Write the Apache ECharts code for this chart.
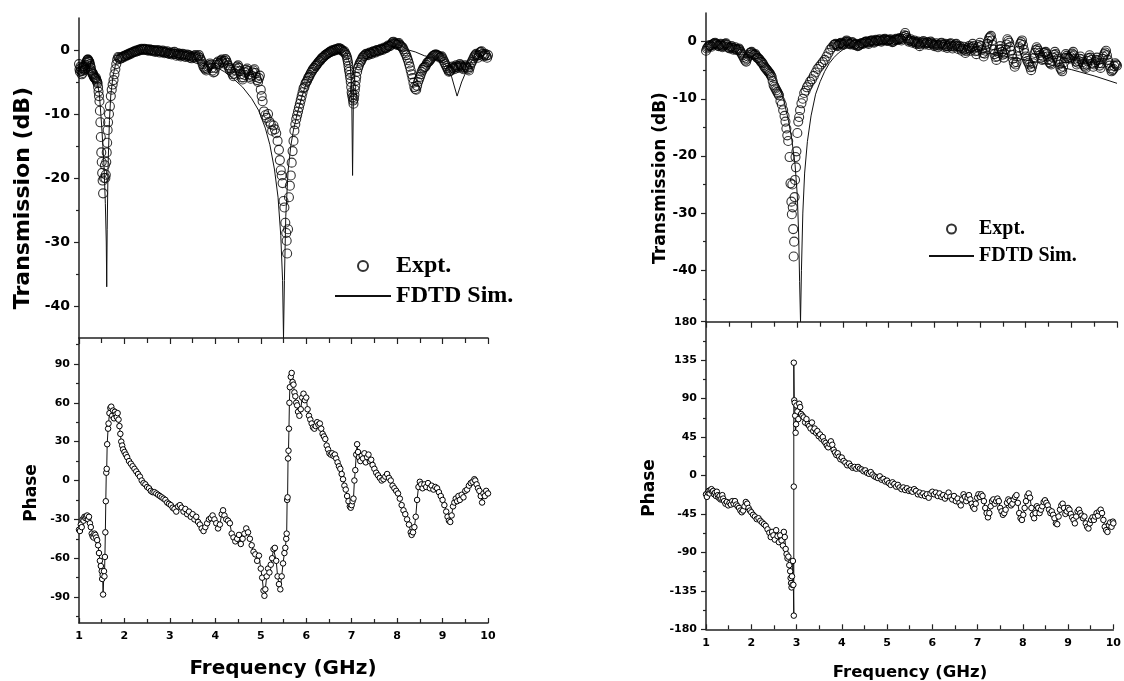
<!DOCTYPE html>
<html><head><meta charset="utf-8">
<script src="https://cdn.jsdelivr.net/npm/echarts@6/dist/echarts.min.js"></script>
<style>html,body{margin:0;padding:0;background:#fff;}#c{width:1124px;height:681px;}</style>
</head><body><div id="c"></div>
<script>
// ---------- DATA ----------
const freqTicks = [1,2,3,4,5,6,7,8,9,10];
const leftTransTicks = [-40,-30,-20,-10,0];
const leftPhaseTicks = [-90,-60,-30,0,30,60,90];
const rightTransTicks = [-40,-30,-20,-10,0];
const rightPhaseTicks = [-180,-135,-90,-45,0,45,90,135,180];

// Left sample: transmission, experiment [GHz, dB]
const leftTransExpt = [[1.00,-2.2],[1.01,-3.0],[1.02,-3.4],[1.03,-2.6],[1.04,-3.2],[1.05,-2.8],[1.06,-3.8],[1.07,-3.3],[1.08,-3.6],[1.09,-2.9],[1.10,-2.6],[1.11,-2.5],[1.12,-3.1],[1.13,-2.8],[1.14,-3.0],[1.15,-2.3],[1.16,-2.0],[1.17,-1.8],[1.18,-1.6],[1.19,-1.5],[1.20,-1.5],[1.21,-1.7],[1.22,-1.8],[1.23,-1.9],[1.24,-2.2],[1.25,-2.5],[1.26,-2.8],[1.27,-3.2],[1.28,-3.4],[1.29,-3.6],[1.30,-3.8],[1.31,-3.7],[1.32,-4.0],[1.33,-4.2],[1.34,-4.3],[1.35,-4.4],[1.36,-4.5],[1.37,-4.3],[1.38,-4.6],[1.39,-4.8],[1.40,-5.0],[1.41,-5.2],[1.42,-5.8],[1.43,-6.5],[1.44,-7.2],[1.45,-8.0],[1.46,-9.5],[1.47,-11.3],[1.48,-13.6],[1.49,-16.0],[1.50,-17.5],[1.51,-19.2],[1.52,-20.4],[1.53,-22.4],[1.55,-20.0],[1.57,-18.0],[1.58,-20.0],[1.59,-19.5],[1.60,-17.5],[1.61,-16.0],[1.62,-14.5],[1.63,-12.5],[1.64,-11.3],[1.66,-10.0],[1.68,-8.8],[1.70,-7.2],[1.72,-6.2],[1.74,-5.4],[1.76,-4.7],[1.78,-3.8],[1.80,-3.0],[1.82,-2.2],[1.84,-1.5],[1.86,-1.1],[1.88,-1.2],[1.90,-1.4],[1.92,-1.3],[1.94,-1.1],[1.96,-1.2],[1.98,-1.0],[2.00,-0.9],[2.02,-1.0],[2.04,-0.8],[2.06,-0.7],[2.08,-0.8],[2.10,-0.6],[2.12,-0.5],[2.14,-0.6],[2.16,-0.4],[2.18,-0.4],[2.20,-0.3],[2.22,-0.2],[2.24,-0.3],[2.26,-0.1],[2.28,-0.2],[2.30,0.0],[2.32,-0.1],[2.34,0.1],[2.36,0.0],[2.38,0.2],[2.40,0.1],[2.42,0.0],[2.44,0.2],[2.46,0.1],[2.48,0.0],[2.50,0.1],[2.52,-0.1],[2.54,0.0],[2.56,0.1],[2.58,-0.1],[2.60,0.0],[2.62,-0.2],[2.64,0.0],[2.66,-0.1],[2.68,-0.3],[2.70,-0.1],[2.72,-0.2],[2.74,0.0],[2.76,-0.2],[2.78,-0.4],[2.80,-0.2],[2.82,-0.3],[2.84,-0.1],[2.86,-0.3],[2.88,-0.5],[2.90,-0.3],[2.92,-0.4],[2.94,-0.2],[2.96,-0.5],[2.98,-0.6],[3.00,-0.4],[3.02,-0.5],[3.04,-0.7],[3.06,-0.4],[3.08,-0.6],[3.10,-0.3],[3.12,-0.6],[3.14,-0.9],[3.16,-0.7],[3.18,-0.5],[3.20,-0.8],[3.22,-0.6],[3.24,-1.0],[3.26,-0.8],[3.28,-0.6],[3.30,-0.9],[3.32,-0.7],[3.34,-1.1],[3.36,-0.9],[3.38,-0.7],[3.40,-1.0],[3.42,-0.8],[3.44,-1.2],[3.46,-1.0],[3.48,-1.3],[3.50,-1.1],[3.52,-0.9],[3.54,-1.2],[3.56,-0.8],[3.58,-1.1],[3.60,-1.4],[3.62,-1.0],[3.64,-0.8],[3.66,-1.2],[3.68,-1.5],[3.70,-1.8],[3.72,-2.2],[3.74,-2.6],[3.76,-2.8],[3.78,-3.0],[3.80,-3.2],[3.82,-2.9],[3.84,-2.6],[3.86,-2.4],[3.88,-2.1],[3.90,-2.3],[3.92,-2.8],[3.94,-3.2],[3.96,-3.5],[3.98,-3.4],[4.00,-2.8],[4.02,-2.3],[4.04,-2.0],[4.06,-1.8],[4.08,-2.2],[4.10,-2.0],[4.12,-1.7],[4.14,-1.5],[4.16,-1.9],[4.18,-2.1],[4.20,-1.7],[4.22,-1.4],[4.24,-1.6],[4.26,-2.0],[4.28,-2.4],[4.30,-2.8],[4.32,-3.1],[4.34,-2.9],[4.36,-3.4],[4.38,-3.8],[4.40,-4.1],[4.42,-3.7],[4.44,-3.2],[4.46,-2.9],[4.48,-2.6],[4.50,-2.4],[4.52,-2.8],[4.54,-3.3],[4.56,-3.8],[4.58,-4.3],[4.60,-4.6],[4.62,-4.3],[4.64,-3.9],[4.66,-3.5],[4.68,-3.1],[4.70,-2.9],[4.72,-3.3],[4.74,-3.8],[4.76,-4.2],[4.78,-4.5],[4.80,-4.0],[4.82,-3.5],[4.84,-3.2],[4.86,-3.0],[4.88,-3.6],[4.90,-4.2],[4.92,-4.7],[4.94,-5.0],[4.96,-4.4],[4.98,-4.0],[5.00,-6.2],[5.02,-7.2],[5.04,-8.0],[5.07,-9.6],[5.10,-10.2],[5.13,-10.6],[5.16,-10.0],[5.19,-11.2],[5.22,-11.6],[5.25,-12.6],[5.28,-11.8],[5.31,-12.4],[5.34,-13.0],[5.37,-14.2],[5.40,-15.6],[5.42,-17.2],[5.44,-18.8],[5.46,-19.6],[5.48,-20.8],[5.50,-23.6],[5.52,-24.6],[5.54,-27.0],[5.56,-28.6],[5.57,-29.8],[5.58,-31.8],[5.60,-28.0],[5.62,-23.0],[5.64,-21.2],[5.66,-19.6],[5.68,-17.6],[5.70,-15.8],[5.72,-14.2],[5.74,-12.6],[5.76,-11.6],[5.78,-10.8],[5.80,-10.2],[5.82,-9.6],[5.84,-9.0],[5.86,-8.4],[5.88,-7.8],[5.90,-7.2],[5.92,-6.6],[5.94,-6.0],[5.96,-5.8],[5.98,-5.3],[6.00,-5.0],[6.02,-4.8],[6.04,-4.4],[6.06,-4.2],[6.08,-3.9],[6.10,-3.6],[6.12,-3.4],[6.14,-3.1],[6.16,-2.9],[6.18,-2.8],[6.20,-2.5],[6.22,-2.4],[6.24,-2.2],[6.26,-2.0],[6.28,-1.8],[6.30,-1.7],[6.32,-1.5],[6.34,-1.3],[6.36,-1.2],[6.38,-1.1],[6.40,-0.9],[6.42,-0.8],[6.44,-0.7],[6.46,-0.6],[6.48,-0.5],[6.50,-0.4],[6.52,-0.3],[6.54,-0.3],[6.56,-0.1],[6.58,-0.2],[6.60,0.0],[6.62,-0.1],[6.64,0.1],[6.66,0.0],[6.68,0.2],[6.70,0.1],[6.72,0.3],[6.74,0.1],[6.76,0.2],[6.78,0.0],[6.80,-0.1],[6.82,-0.3],[6.84,-0.2],[6.86,-0.5],[6.88,-0.8],[6.90,-1.2],[6.91,-1.6],[6.92,-2.0],[6.93,-2.5],[6.94,-3.0],[6.95,-3.4],[6.96,-3.9],[6.97,-4.4],[6.98,-5.0],[6.99,-5.8],[7.00,-6.6],[7.01,-7.0],[7.02,-7.4],[7.03,-7.9],[7.04,-8.4],[7.05,-7.6],[7.06,-7.0],[7.07,-6.2],[7.08,-5.6],[7.09,-4.8],[7.10,-4.2],[7.12,-3.4],[7.14,-2.8],[7.16,-2.4],[7.18,-2.0],[7.20,-1.8],[7.22,-1.5],[7.24,-1.2],[7.26,-1.0],[7.28,-0.9],[7.30,-0.7],[7.32,-0.6],[7.34,-0.7],[7.36,-0.8],[7.38,-0.5],[7.40,-0.4],[7.42,-0.5],[7.44,-0.6],[7.46,-0.3],[7.48,-0.2],[7.50,-0.3],[7.52,-0.4],[7.54,-0.1],[7.56,0.0],[7.58,-0.1],[7.60,-0.2],[7.62,0.0],[7.64,0.2],[7.66,0.1],[7.68,0.0],[7.70,0.2],[7.72,0.4],[7.74,0.3],[7.76,0.3],[7.78,0.5],[7.80,0.7],[7.82,0.6],[7.84,0.6],[7.86,0.8],[7.88,1.0],[7.90,1.2],[7.92,1.3],[7.94,1.1],[7.96,1.0],[7.98,0.9],[8.00,0.8],[8.02,1.0],[8.04,1.1],[8.06,0.8],[8.08,0.6],[8.10,0.5],[8.12,0.4],[8.14,0.1],[8.16,-0.2],[8.18,-0.5],[8.20,-0.8],[8.22,-1.2],[8.24,-1.6],[8.26,-2.1],[8.28,-2.6],[8.30,-3.2],[8.32,-3.8],[8.34,-4.4],[8.36,-5.1],[8.38,-5.8],[8.40,-6.1],[8.42,-6.2],[8.44,-5.6],[8.46,-5.0],[8.48,-4.6],[8.50,-4.2],[8.52,-3.8],[8.54,-3.4],[8.56,-3.1],[8.58,-2.8],[8.60,-2.7],[8.62,-2.6],[8.64,-2.3],[8.66,-2.0],[8.68,-1.9],[8.70,-1.8],[8.72,-1.6],[8.74,-1.4],[8.76,-1.2],[8.78,-1.0],[8.80,-0.9],[8.82,-0.8],[8.84,-0.7],[8.86,-0.7],[8.88,-0.8],[8.90,-0.9],[8.92,-1.0],[8.94,-1.2],[8.96,-1.1],[8.98,-1.0],[9.00,-1.3],[9.02,-1.6],[9.04,-1.9],[9.06,-2.2],[9.08,-2.5],[9.10,-2.8],[9.12,-3.1],[9.14,-3.4],[9.16,-3.3],[9.18,-3.2],[9.20,-2.9],[9.22,-2.6],[9.24,-2.8],[9.26,-3.0],[9.28,-2.7],[9.30,-2.4],[9.32,-2.6],[9.34,-2.8],[9.36,-2.5],[9.38,-2.2],[9.40,-2.4],[9.42,-2.6],[9.44,-2.8],[9.46,-3.0],[9.48,-2.7],[9.50,-2.4],[9.52,-2.6],[9.54,-2.8],[9.56,-3.0],[9.58,-3.2],[9.60,-2.7],[9.62,-2.2],[9.64,-1.9],[9.66,-1.6],[9.68,-1.3],[9.70,-1.0],[9.72,-0.8],[9.74,-0.6],[9.76,-0.9],[9.78,-1.2],[9.80,-0.8],[9.82,-0.4],[9.84,-0.3],[9.86,-0.2],[9.88,-0.6],[9.90,-1.0],[9.92,-0.8],[9.94,-0.6],[9.96,-0.9],[9.98,-1.2],[10.00,-0.8]];

// Left sample: transmission, FDTD simulation [GHz, dB]
const leftTransSim = [[1.00,-2.0],[1.10,-2.4],[1.20,-1.8],[1.30,-3.4],[1.40,-4.8],[1.45,-7],[1.50,-12],[1.55,-18],[1.58,-24],[1.60,-30],[1.61,-37],[1.62,-28],[1.64,-18],[1.67,-11],[1.70,-7],[1.75,-4],[1.80,-2.4],[1.85,-1.4],[1.90,-1.0],[2.00,-0.7],[2.20,-0.3],[2.40,0.0],[2.60,0.0],[2.80,-0.1],[3.00,-0.3],[3.20,-0.5],[3.40,-0.9],[3.60,-1.3],[3.80,-1.9],[4.00,-2.6],[4.20,-3.4],[4.40,-4.5],[4.60,-5.8],[4.80,-7.6],[4.95,-9.4],[5.10,-12.2],[5.20,-14.8],[5.30,-18.6],[5.38,-23],[5.44,-29],[5.48,-36],[5.50,-45],[5.52,-36],[5.55,-26],[5.60,-19],[5.66,-15],[5.72,-12.5],[5.80,-10.0],[5.90,-7.4],[6.00,-5.2],[6.10,-3.8],[6.20,-2.8],[6.30,-1.9],[6.40,-1.2],[6.50,-0.6],[6.60,-0.2],[6.70,0.1],[6.80,0.0],[6.90,-0.6],[6.97,-2.5],[7.00,-6],[7.02,-19.6],[7.04,-6],[7.08,-3.2],[7.15,-2.0],[7.25,-1.2],[7.40,-0.5],[7.60,0.0],[7.80,0.6],[7.95,1.0],[8.10,0.6],[8.25,0.0],[8.40,-0.3],[8.60,-0.9],[8.80,-1.2],[8.95,-1.6],[9.10,-2.6],[9.20,-4.2],[9.32,-7.2],[9.42,-5.0],[9.54,-3.0],[9.65,-1.6],[9.80,-0.4],[9.90,-0.2],[10.00,-0.6]];

// Left sample: phase, experiment [GHz, deg]
const leftPhaseExpt = [[1.00,-38],[1.02,-39],[1.04,-34],[1.06,-36],[1.08,-30],[1.10,-31],[1.12,-28],[1.14,-29],[1.16,-28],[1.18,-27],[1.20,-30],[1.22,-28],[1.24,-33],[1.26,-36],[1.28,-41],[1.30,-43],[1.32,-44],[1.34,-41],[1.36,-42],[1.38,-44],[1.40,-46],[1.42,-50],[1.44,-56],[1.46,-62],[1.48,-66],[1.50,-70],[1.51,-76],[1.52,-73],[1.53,-88],[1.55,-70],[1.56,-74],[1.57,-59],[1.58,-40],[1.59,-16],[1.60,6],[1.61,9],[1.62,28],[1.64,40],[1.65,44],[1.67,52],[1.69,56],[1.71,57],[1.73,50],[1.75,54],[1.77,48],[1.79,53],[1.81,51],[1.83,49],[1.85,52],[1.87,47],[1.89,42],[1.91,36],[1.93,30],[1.95,27],[1.97,24],[2.00,22],[2.03,20],[2.06,18],[2.10,15],[2.14,13],[2.18,11],[2.22,9],[2.26,7],[2.30,5],[2.34,3],[2.38,0],[2.42,-2],[2.46,-3],[2.50,-5],[2.54,-6],[2.58,-8],[2.62,-9],[2.66,-9],[2.70,-10],[2.74,-11],[2.78,-12],[2.82,-13],[2.86,-14],[2.90,-15],[2.94,-17],[2.98,-18],[3.02,-19],[3.06,-21],[3.10,-22],[3.14,-24],[3.18,-20],[3.22,-19],[3.26,-21],[3.30,-24],[3.34,-22],[3.38,-26],[3.42,-24],[3.46,-28],[3.50,-26],[3.54,-30],[3.58,-28],[3.62,-32],[3.66,-34],[3.70,-37],[3.74,-39],[3.78,-36],[3.82,-33],[3.86,-30],[3.90,-29],[3.94,-27],[3.98,-30],[4.02,-33],[4.06,-37],[4.10,-34],[4.14,-26],[4.17,-23],[4.20,-27],[4.24,-30],[4.28,-31],[4.32,-33],[4.36,-41],[4.40,-44],[4.44,-47],[4.48,-45],[4.52,-42],[4.56,-49],[4.60,-45],[4.64,-41],[4.68,-37],[4.72,-40],[4.76,-45],[4.80,-50],[4.84,-55],[4.88,-57],[4.92,-62],[4.96,-58],[5.00,-68],[5.03,-75],[5.06,-85],[5.08,-89],[5.10,-84],[5.13,-74],[5.16,-68],[5.19,-71],[5.22,-65],[5.25,-60],[5.28,-53],[5.31,-52],[5.34,-62],[5.37,-74],[5.40,-80],[5.43,-84],[5.46,-74],[5.49,-64],[5.52,-56],[5.54,-52],[5.56,-45],[5.57,-41],[5.58,-15],[5.59,-13],[5.60,17],[5.61,23],[5.62,40],[5.63,60],[5.64,72],[5.66,80],[5.68,83],[5.70,76],[5.72,74],[5.74,68],[5.76,65],[5.78,60],[5.80,58],[5.82,53],[5.85,50],[5.88,55],[5.91,64],[5.94,67],[5.97,62],[6.00,64],[6.03,55],[6.06,50],[6.09,47],[6.12,44],[6.15,41],[6.18,40],[6.21,42],[6.24,45],[6.27,43],[6.30,44],[6.33,40],[6.36,36],[6.39,34],[6.42,32],[6.45,27],[6.48,24],[6.51,21],[6.54,20],[6.57,21],[6.60,19],[6.63,20],[6.66,17],[6.69,14],[6.72,11],[6.75,9],[6.78,5],[6.81,1],[6.84,-4],[6.87,-7],[6.90,-12],[6.93,-16],[6.96,-20],[6.98,-21],[7.00,-19],[7.02,-16],[7.04,-14],[7.06,0],[7.08,8],[7.10,20],[7.12,28],[7.14,22],[7.16,18],[7.19,15],[7.22,19],[7.25,17],[7.28,21],[7.31,14],[7.34,18],[7.37,20],[7.40,15],[7.43,16],[7.46,12],[7.50,9],[7.54,6],[7.58,4],[7.62,2],[7.66,0],[7.70,1],[7.74,3],[7.78,5],[7.82,2],[7.86,0],[7.90,-4],[7.94,-6],[7.98,-8],[8.02,-10],[8.06,-14],[8.10,-19],[8.14,-23],[8.18,-26],[8.22,-30],[8.26,-34],[8.30,-40],[8.32,-42],[8.35,-40],[8.38,-36],[8.41,-28],[8.44,-15],[8.47,-5],[8.50,-1],[8.53,-3],[8.56,-6],[8.60,-3],[8.64,-5],[8.68,-2],[8.72,-6],[8.76,-4],[8.80,-7],[8.84,-5],[8.88,-6],[8.92,-9],[8.96,-12],[9.00,-15],[9.04,-19],[9.08,-24],[9.11,-28],[9.14,-31],[9.17,-32],[9.20,-27],[9.23,-20],[9.26,-17],[9.29,-14],[9.32,-16],[9.35,-12],[9.38,-15],[9.42,-11],[9.46,-13],[9.50,-8],[9.54,-7],[9.58,-4],[9.62,-2],[9.66,-1],[9.70,1],[9.72,0],[9.75,-3],[9.78,-6],[9.81,-8],[9.84,-12],[9.87,-17],[9.90,-10],[9.93,-12],[9.96,-8],[10.00,-10]];

// Right sample: transmission, experiment [GHz, dB]
const rightTransExpt = [[1.00,-1.6],[1.02,-1.2],[1.04,-1.0],[1.06,-0.8],[1.08,-0.6],[1.10,-0.7],[1.12,-0.9],[1.14,-0.6],[1.16,-0.4],[1.18,-0.3],[1.20,-0.2],[1.22,-0.4],[1.24,-0.5],[1.26,-0.7],[1.28,-0.8],[1.30,-0.6],[1.32,-0.4],[1.34,-0.7],[1.36,-1.0],[1.38,-0.8],[1.40,-0.6],[1.42,-0.4],[1.44,-0.3],[1.46,-0.6],[1.48,-0.9],[1.50,-1.1],[1.52,-1.2],[1.54,-1.0],[1.56,-0.8],[1.58,-1.1],[1.60,-1.4],[1.62,-1.2],[1.64,-1.0],[1.66,-1.3],[1.68,-1.5],[1.70,-1.3],[1.72,-1.2],[1.74,-1.5],[1.76,-1.8],[1.78,-2.1],[1.80,-2.4],[1.82,-2.7],[1.84,-3.0],[1.86,-3.3],[1.88,-3.5],[1.90,-3.0],[1.92,-2.6],[1.94,-2.3],[1.96,-2.0],[1.98,-1.9],[2.00,-1.8],[2.02,-2.1],[2.04,-2.4],[2.06,-2.3],[2.08,-2.2],[2.10,-2.5],[2.12,-2.8],[2.14,-2.9],[2.16,-3.0],[2.18,-3.2],[2.20,-3.5],[2.22,-3.6],[2.24,-3.8],[2.26,-4.1],[2.28,-4.4],[2.30,-4.6],[2.32,-4.8],[2.34,-5.0],[2.36,-5.2],[2.38,-5.4],[2.40,-5.6],[2.42,-5.9],[2.44,-6.2],[2.46,-6.9],[2.48,-7.6],[2.50,-7.9],[2.52,-8.2],[2.54,-8.5],[2.56,-8.8],[2.58,-9.1],[2.60,-9.4],[2.63,-10.4],[2.66,-11.0],[2.69,-12.0],[2.72,-13.0],[2.74,-14.0],[2.76,-15.2],[2.78,-16.4],[2.80,-17.4],[2.83,-20.2],[2.85,-24.8],[2.87,-28.0],[2.88,-30.2],[2.89,-25.0],[2.90,-29.0],[2.91,-32.8],[2.92,-37.6],[2.93,-35.0],[2.94,-27.2],[2.95,-24.2],[2.96,-20.2],[2.97,-22.0],[2.98,-19.2],[3.00,-16.0],[3.02,-14.0],[3.04,-13.2],[3.06,-12.0],[3.09,-10.8],[3.12,-10.0],[3.15,-9.0],[3.18,-8.6],[3.21,-8.0],[3.24,-7.6],[3.28,-7.0],[3.32,-6.6],[3.36,-6.0],[3.40,-5.4],[3.44,-4.8],[3.48,-4.4],[3.52,-4.0],[3.56,-3.6],[3.60,-3.2],[3.64,-2.6],[3.68,-2.0],[3.72,-1.4],[3.76,-1.0],[3.80,-0.6],[3.82,-0.5],[3.84,-0.4],[3.86,-0.6],[3.88,-0.8],[3.90,-0.6],[3.92,-0.4],[3.94,-0.3],[3.96,-0.2],[3.98,-0.4],[4.00,-0.6],[4.02,-0.4],[4.04,-0.2],[4.06,0.0],[4.08,0.2],[4.10,0.0],[4.12,-0.3],[4.14,-0.4],[4.16,-0.5],[4.18,-0.3],[4.20,-0.1],[4.22,-0.3],[4.24,-0.6],[4.26,-0.5],[4.28,-0.4],[4.30,-0.6],[4.32,-0.8],[4.34,-0.7],[4.36,-0.6],[4.38,-0.4],[4.40,-0.3],[4.42,-0.3],[4.44,-0.4],[4.46,-0.2],[4.48,-0.1],[4.50,0.0],[4.52,0.0],[4.54,-0.2],[4.56,-0.4],[4.58,-0.1],[4.60,0.1],[4.62,0.2],[4.64,0.2],[4.66,0.0],[4.68,-0.2],[4.70,0.0],[4.72,0.3],[4.74,0.2],[4.76,0.1],[4.78,0.2],[4.80,0.4],[4.82,0.2],[4.84,0.0],[4.86,0.2],[4.88,0.3],[4.90,0.4],[4.92,0.5],[4.94,0.3],[4.96,0.1],[4.98,0.2],[5.00,0.2],[5.02,0.3],[5.04,0.4],[5.06,0.1],[5.08,-0.1],[5.10,0.0],[5.12,0.2],[5.14,0.3],[5.16,0.5],[5.18,0.4],[5.20,0.3],[5.22,0.4],[5.24,0.6],[5.26,0.4],[5.28,0.2],[5.30,0.5],[5.32,0.8],[5.34,1.1],[5.36,1.5],[5.38,1.0],[5.40,0.6],[5.42,0.3],[5.44,0.0],[5.46,0.2],[5.48,0.4],[5.50,0.1],[5.52,-0.2],[5.54,0.0],[5.56,0.2],[5.58,-0.1],[5.60,-0.4],[5.62,-0.2],[5.64,0.0],[5.66,-0.4],[5.68,-0.8],[5.70,-0.5],[5.72,-0.3],[5.74,-0.1],[5.76,0.1],[5.78,-0.2],[5.80,-0.5],[5.82,-0.3],[5.84,-0.1],[5.86,-0.3],[5.88,-0.6],[5.90,-0.3],[5.92,0.0],[5.94,-0.2],[5.96,-0.4],[5.98,-0.6],[6.00,-0.8],[6.02,-0.5],[6.04,-0.3],[6.06,-0.6],[6.08,-1.0],[6.10,-0.7],[6.12,-0.5],[6.14,-0.3],[6.16,-0.2],[6.18,-0.5],[6.20,-0.9],[6.22,-0.6],[6.24,-0.4],[6.26,-0.8],[6.28,-1.1],[6.30,-0.8],[6.32,-0.6],[6.34,-0.4],[6.36,-0.3],[6.38,-0.8],[6.40,-1.2],[6.42,-0.9],[6.44,-0.7],[6.46,-0.5],[6.48,-0.4],[6.50,-0.8],[6.52,-1.3],[6.54,-1.0],[6.56,-0.8],[6.58,-1.2],[6.60,-1.6],[6.62,-1.2],[6.64,-0.9],[6.66,-1.4],[6.68,-2.0],[6.70,-1.7],[6.72,-1.4],[6.74,-1.1],[6.76,-0.8],[6.78,-1.2],[6.80,-1.6],[6.82,-1.0],[6.84,-0.4],[6.86,-0.8],[6.88,-1.2],[6.90,-1.7],[6.92,-2.2],[6.94,-1.6],[6.96,-1.0],[6.98,-0.6],[7.00,-0.2],[7.02,-0.8],[7.04,-1.4],[7.06,-2.0],[7.08,-2.6],[7.10,-2.1],[7.12,-1.6],[7.14,-1.0],[7.16,-0.4],[7.18,0.1],[7.20,0.6],[7.22,0.8],[7.24,1.0],[7.26,0.2],[7.28,-0.6],[7.30,-1.4],[7.32,-2.2],[7.34,-2.7],[7.36,-3.2],[7.38,-2.6],[7.40,-2.0],[7.42,-1.4],[7.44,-0.8],[7.46,-1.3],[7.48,-1.8],[7.50,-2.3],[7.52,-2.8],[7.54,-2.1],[7.56,-1.4],[7.58,-0.5],[7.60,0.4],[7.62,0.1],[7.64,-0.2],[7.66,-0.9],[7.68,-1.6],[7.70,-2.3],[7.72,-3.0],[7.74,-3.7],[7.76,-4.4],[7.78,-4.0],[7.80,-3.6],[7.82,-2.6],[7.84,-1.6],[7.86,-1.0],[7.88,-0.4],[7.90,-0.1],[7.92,0.2],[7.94,-0.6],[7.96,-1.4],[7.98,-2.0],[8.00,-2.6],[8.02,-3.0],[8.04,-3.4],[8.06,-3.7],[8.08,-4.0],[8.10,-4.5],[8.12,-5.0],[8.14,-4.4],[8.16,-3.8],[8.18,-2.9],[8.20,-2.0],[8.22,-1.5],[8.24,-1.0],[8.26,-1.3],[8.28,-1.6],[8.30,-2.0],[8.32,-2.4],[8.34,-2.8],[8.36,-3.2],[8.38,-2.6],[8.40,-2.0],[8.42,-1.9],[8.44,-1.8],[8.46,-2.2],[8.48,-2.6],[8.50,-3.1],[8.52,-3.6],[8.54,-3.8],[8.56,-4.0],[8.58,-3.4],[8.60,-2.8],[8.62,-2.3],[8.64,-1.8],[8.66,-2.2],[8.68,-2.6],[8.70,-3.0],[8.72,-3.4],[8.74,-4.0],[8.76,-4.6],[8.78,-4.9],[8.80,-5.2],[8.82,-4.4],[8.84,-3.6],[8.86,-2.9],[8.88,-2.2],[8.90,-2.5],[8.92,-2.8],[8.94,-2.9],[8.96,-3.0],[8.98,-2.7],[9.00,-2.4],[9.02,-2.1],[9.04,-1.8],[9.06,-2.4],[9.08,-3.0],[9.10,-3.5],[9.12,-4.0],[9.14,-3.7],[9.16,-3.4],[9.18,-3.0],[9.20,-2.6],[9.22,-3.1],[9.24,-3.6],[9.26,-3.9],[9.28,-4.2],[9.30,-4.4],[9.32,-4.6],[9.34,-4.0],[9.36,-3.4],[9.38,-2.9],[9.40,-2.4],[9.42,-2.8],[9.44,-3.2],[9.46,-3.8],[9.48,-4.4],[9.50,-4.0],[9.52,-3.6],[9.54,-3.2],[9.56,-2.8],[9.58,-3.3],[9.60,-3.8],[9.62,-4.2],[9.64,-4.6],[9.66,-3.8],[9.68,-3.0],[9.70,-2.6],[9.72,-2.2],[9.74,-1.9],[9.76,-1.6],[9.78,-2.4],[9.80,-3.2],[9.82,-3.7],[9.84,-4.2],[9.86,-4.7],[9.88,-5.2],[9.90,-5.0],[9.92,-4.8],[9.94,-4.3],[9.96,-3.8],[9.98,-4.0],[10.00,-4.2]];

// Right sample: transmission, FDTD simulation [GHz, dB]
const rightTransSim = [[1.00,-1.5],[1.20,-0.6],[1.40,-0.6],[1.60,-1.0],[1.80,-1.6],[2.00,-2.0],[2.20,-3.2],[2.40,-4.8],[2.50,-6.0],[2.60,-7.8],[2.70,-10.2],[2.80,-13.6],[2.88,-17.2],[2.95,-21.5],[3.00,-27],[3.03,-34],[3.05,-42],[3.07,-49],[3.09,-40],[3.12,-30],[3.16,-23],[3.22,-17.5],[3.30,-13],[3.40,-9.2],[3.50,-7.0],[3.60,-5.2],[3.70,-3.8],[3.80,-2.8],[3.90,-2.0],[4.00,-1.4],[4.20,-0.7],[4.40,-0.3],[4.60,0.0],[4.80,0.1],[5.00,0.1],[5.20,0.0],[5.40,-0.1],[5.60,-0.3],[5.80,-0.5],[6.00,-0.7],[6.50,-1.2],[7.00,-1.8],[7.50,-2.5],[8.00,-3.2],[8.50,-4.0],[9.00,-4.9],[9.50,-6.0],[10.00,-7.3]];

// Right sample: phase, experiment [GHz, deg]
const rightPhaseExpt = [[1.00,-22],[1.02,-25],[1.04,-20],[1.06,-18],[1.08,-21],[1.10,-17],[1.12,-16],[1.14,-19],[1.16,-18],[1.18,-22],[1.20,-20],[1.22,-24],[1.24,-19],[1.26,-23],[1.28,-26],[1.30,-24],[1.32,-28],[1.34,-27],[1.36,-23],[1.38,-27],[1.40,-30],[1.43,-33],[1.46,-31],[1.49,-35],[1.52,-32],[1.55,-34],[1.58,-30],[1.61,-33],[1.64,-30],[1.67,-34],[1.70,-36],[1.73,-38],[1.76,-41],[1.79,-43],[1.82,-41],[1.85,-36],[1.88,-31],[1.91,-33],[1.94,-38],[1.97,-41],[2.00,-43],[2.04,-46],[2.08,-48],[2.12,-51],[2.16,-50],[2.20,-53],[2.24,-55],[2.28,-57],[2.32,-59],[2.36,-63],[2.40,-67],[2.43,-72],[2.46,-66],[2.49,-70],[2.52,-75],[2.55,-64],[2.58,-71],[2.61,-78],[2.64,-70],[2.67,-76],[2.70,-82],[2.72,-66],[2.74,-72],[2.76,-86],[2.78,-92],[2.80,-97],[2.82,-95],[2.84,-105],[2.86,-112],[2.87,-120],[2.88,-126],[2.89,-131],[2.90,-118],[2.91,-128],[2.92,-100],[2.93,-128],[2.94,-164],[2.94,-13],[2.94,132],[2.95,88],[2.96,85],[2.97,70],[2.98,50],[2.99,60],[3.00,82],[3.02,75],[3.04,66],[3.06,84],[3.08,80],[3.10,72],[3.13,70],[3.16,68],[3.19,62],[3.22,66],[3.25,60],[3.28,58],[3.31,55],[3.34,62],[3.37,52],[3.40,55],[3.43,50],[3.46,52],[3.49,46],[3.52,48],[3.55,43],[3.58,45],[3.61,40],[3.64,38],[3.67,35],[3.70,33],[3.73,37],[3.76,40],[3.79,36],[3.82,30],[3.85,27],[3.88,24],[3.91,26],[3.94,22],[3.97,19],[4.00,21],[4.04,17],[4.08,15],[4.12,12],[4.16,14],[4.20,11],[4.24,9],[4.28,10],[4.32,8],[4.36,10],[4.40,8],[4.44,7],[4.48,5],[4.52,6],[4.56,3],[4.60,2],[4.64,4],[4.68,1],[4.72,-1],[4.76,-2],[4.80,-3],[4.84,-1],[4.88,-5],[4.92,-4],[4.96,-7],[5.00,-6],[5.04,-9],[5.08,-11],[5.12,-8],[5.16,-10],[5.20,-13],[5.24,-11],[5.28,-14],[5.32,-16],[5.36,-14],[5.40,-17],[5.44,-15],[5.48,-18],[5.52,-17],[5.56,-19],[5.60,-16],[5.64,-18],[5.68,-22],[5.72,-20],[5.76,-23],[5.80,-21],[5.84,-24],[5.88,-22],[5.92,-26],[5.96,-21],[6.00,-19],[6.04,-22],[6.08,-20],[6.12,-24],[6.16,-21],[6.20,-25],[6.24,-23],[6.28,-27],[6.32,-24],[6.36,-20],[6.40,-25],[6.44,-28],[6.48,-24],[6.52,-30],[6.56,-27],[6.60,-32],[6.63,-35],[6.66,-28],[6.69,-22],[6.72,-25],[6.75,-30],[6.78,-26],[6.81,-23],[6.84,-28],[6.87,-33],[6.90,-37],[6.93,-39],[6.96,-33],[6.99,-26],[7.02,-22],[7.05,-25],[7.08,-22],[7.11,-24],[7.14,-30],[7.17,-38],[7.20,-44],[7.23,-49],[7.26,-44],[7.29,-36],[7.32,-30],[7.35,-28],[7.38,-33],[7.41,-30],[7.44,-27],[7.47,-30],[7.50,-38],[7.53,-42],[7.56,-46],[7.59,-44],[7.62,-40],[7.65,-32],[7.68,-28],[7.71,-30],[7.74,-35],[7.77,-33],[7.80,-28],[7.83,-25],[7.86,-23],[7.89,-32],[7.92,-44],[7.95,-50],[7.98,-52],[8.01,-46],[8.04,-38],[8.07,-30],[8.10,-24],[8.13,-21],[8.16,-26],[8.19,-38],[8.22,-46],[8.25,-50],[8.28,-44],[8.31,-36],[8.34,-38],[8.37,-44],[8.40,-40],[8.43,-36],[8.46,-31],[8.49,-29],[8.52,-32],[8.55,-35],[8.58,-40],[8.61,-44],[8.64,-42],[8.67,-46],[8.70,-50],[8.73,-56],[8.76,-57],[8.79,-48],[8.82,-40],[8.85,-35],[8.88,-33],[8.91,-38],[8.94,-45],[8.97,-42],[9.00,-38],[9.03,-40],[9.06,-45],[9.09,-49],[9.12,-52],[9.15,-56],[9.18,-48],[9.21,-42],[9.24,-40],[9.27,-44],[9.30,-47],[9.33,-50],[9.36,-48],[9.39,-56],[9.42,-60],[9.45,-62],[9.48,-56],[9.51,-52],[9.54,-49],[9.57,-52],[9.60,-48],[9.63,-44],[9.66,-47],[9.69,-42],[9.72,-40],[9.75,-44],[9.78,-52],[9.81,-60],[9.84,-64],[9.87,-66],[9.90,-58],[9.93,-55],[9.96,-60],[9.99,-54],[10.00,-56]];

// ---------- CHART ----------
const chart = echarts.init(document.getElementById('c'), null, {renderer: 'canvas'});
const AX = '#222';
const SANS = 'DejaVu Sans';
const SERIF = 'Liberation Serif';

function xAx(gridIndex, showLabel, inside, tickLen) {
  return {
    type: 'value', gridIndex, min: 1, max: 10, interval: 1,
    axisLine: {show: true, onZero: false, lineStyle: {color: AX, width: 1.5}},
    axisTick: {show: true, inside, length: tickLen, lineStyle: {color: AX, width: 1.2}},
    minorTick: {show: true, splitNumber: 2, length: tickLen - 1, lineStyle: {color: AX, width: 1.2}},
    axisLabel: {show: showLabel, margin: 8, color: '#000', fontFamily: SANS, fontWeight: 'bold', fontSize: 11},
    splitLine: {show: false}
  };
}
function yAx(gridIndex, min, max, labels, fontSize) {
  return {
    type: 'value', gridIndex, min, max,
    axisLine: {show: true, onZero: false, lineStyle: {color: AX, width: 1.5}},
    axisTick: {show: true, inside: false, length: 5, customValues: labels, lineStyle: {color: AX, width: 1.2}},
    axisLabel: {show: true, margin: 9, customValues: labels, color: '#000', fontFamily: SANS, fontWeight: 'bold', fontSize},
    splitLine: {show: false}
  };
}
function yMinor(gridIndex, min, max, vals) {
  return {
    type: 'value', gridIndex, min, max, position: 'left', offset: 0,
    axisLine: {show: false},
    axisTick: {show: true, inside: false, length: 3, customValues: vals, lineStyle: {color: AX, width: 1.2}},
    axisLabel: {show: false}, splitLine: {show: false}
  };
}
const openCircle = {color: 'rgba(255,255,255,0)', borderColor: '#000', borderWidth: 1.1};
const simStyle = {
  symbol: 'none', z: 3, lineStyle: {color: '#111', width: 1},
  itemStyle: {color: 'rgba(0,0,0,0)', borderColor: 'rgba(0,0,0,0)'}
};

const option = {
  animation: false,
  backgroundColor: '#fff',
  grid: [
    {left: 79, top: 18, width: 409, height: 320},
    {left: 79, top: 338, width: 409, height: 285},
    {left: 706, top: 13, width: 411, height: 308.7},
    {left: 706, top: 321.7, width: 411, height: 307.6}
  ],
  xAxis: [
    xAx(0, false, false, 6),
    xAx(1, true, true, 5),
    xAx(2, false, false, 6),
    xAx(3, true, true, 5)
  ],
  yAxis: [
    yAx(0, -45, 5, leftTransTicks, 14),
    yAx(1, -110, 110, leftPhaseTicks, 11),
    yAx(2, -49, 5, rightTransTicks, 13.5),
    {
      type: 'value', gridIndex: 3, min: -180, max: 180, interval: 45,
      axisLine: {show: true, onZero: false, lineStyle: {color: AX, width: 1.5}},
      axisTick: {show: true, inside: false, length: 5, lineStyle: {color: AX, width: 1.2}},
      minorTick: {show: true, splitNumber: 2, length: 3, lineStyle: {color: AX, width: 1.2}},
      axisLabel: {show: true, margin: 9, customValues: rightPhaseTicks, color: '#000', fontFamily: SANS, fontWeight: 'bold', fontSize: 11},
      splitLine: {show: false}
    },
    yMinor(0, -45, 5, [-35, -25, -15, -5]),
    yMinor(1, -110, 110, [-105, -75, -45, -15, 15, 45, 75, 105]),
    yMinor(2, -49, 5, [-45, -35, -25, -15, -5])
  ],
  legend: [
    {
      left: 334, top: 254, padding: 0, orient: 'vertical', itemGap: 6, itemWidth: 56, itemHeight: 10,
      selectedMode: false, data: ['Expt.', 'FDTD Sim.'],
      textStyle: {fontFamily: SERIF, fontWeight: 'bold', fontSize: 24, color: '#000'}
    },
    {
      left: 928, top: 219, padding: 0, orient: 'vertical', itemGap: 7, itemWidth: 45, itemHeight: 9,
      selectedMode: false, data: ['Expt.', 'FDTD Sim.'],
      textStyle: {fontFamily: SERIF, fontWeight: 'bold', fontSize: 20, color: '#000'}
    }
  ],
  series: [
    {name: 'Expt.', type: 'scatter', xAxisIndex: 0, yAxisIndex: 0, data: leftTransExpt,
     symbol: 'circle', symbolSize: 9, z: 2, itemStyle: openCircle},
    Object.assign({name: 'FDTD Sim.', type: 'line', xAxisIndex: 0, yAxisIndex: 0, data: leftTransSim}, simStyle),
    {name: 'Expt. phase L', type: 'line', xAxisIndex: 1, yAxisIndex: 1, data: leftPhaseExpt,
     symbol: 'circle', symbolSize: 5.5, showAllSymbol: true, z: 2,
     lineStyle: {color: '#111', width: 1},
     itemStyle: {color: '#fff', borderColor: '#000', borderWidth: 1}},
    {name: 'Expt.', type: 'scatter', xAxisIndex: 2, yAxisIndex: 2, data: rightTransExpt,
     symbol: 'circle', symbolSize: 9, z: 2, itemStyle: openCircle},
    Object.assign({name: 'FDTD Sim.', type: 'line', xAxisIndex: 2, yAxisIndex: 2, data: rightTransSim}, simStyle),
    {name: 'Expt. phase R', type: 'line', xAxisIndex: 3, yAxisIndex: 3, data: rightPhaseExpt,
     symbol: 'circle', symbolSize: 5.5, showAllSymbol: true, z: 2,
     lineStyle: {color: '#111', width: 1},
     itemStyle: {color: '#fff', borderColor: '#000', borderWidth: 1}}
  ],
  graphic: [
    {type: 'text', x: 23, y: 198, rotation: Math.PI / 2,
     style: {text: 'Transmission (dB)', font: 'bold 22px "DejaVu Sans"', fill: '#000', textAlign: 'center', textVerticalAlign: 'middle'}},
    {type: 'text', x: 32, y: 493, rotation: Math.PI / 2,
     style: {text: 'Phase', font: 'bold 17px "DejaVu Sans"', fill: '#000', textAlign: 'center', textVerticalAlign: 'middle'}},
    {type: 'text', x: 283, y: 669,
     style: {text: 'Frequency (GHz)', font: 'bold 20px "DejaVu Sans"', fill: '#000', textAlign: 'center', textVerticalAlign: 'middle'}},
    {type: 'text', x: 661, y: 178, rotation: Math.PI / 2,
     style: {text: 'Transmission (dB)', font: 'bold 17px "DejaVu Sans"', fill: '#000', textAlign: 'center', textVerticalAlign: 'middle'}},
    {type: 'text', x: 650, y: 488, rotation: Math.PI / 2,
     style: {text: 'Phase', font: 'bold 17px "DejaVu Sans"', fill: '#000', textAlign: 'center', textVerticalAlign: 'middle'}},
    {type: 'text', x: 910, y: 673,
     style: {text: 'Frequency (GHz)', font: 'bold 16.5px "DejaVu Sans"', fill: '#000', textAlign: 'center', textVerticalAlign: 'middle'}}
  ]
};
chart.setOption(option);
</script>
</body></html>
